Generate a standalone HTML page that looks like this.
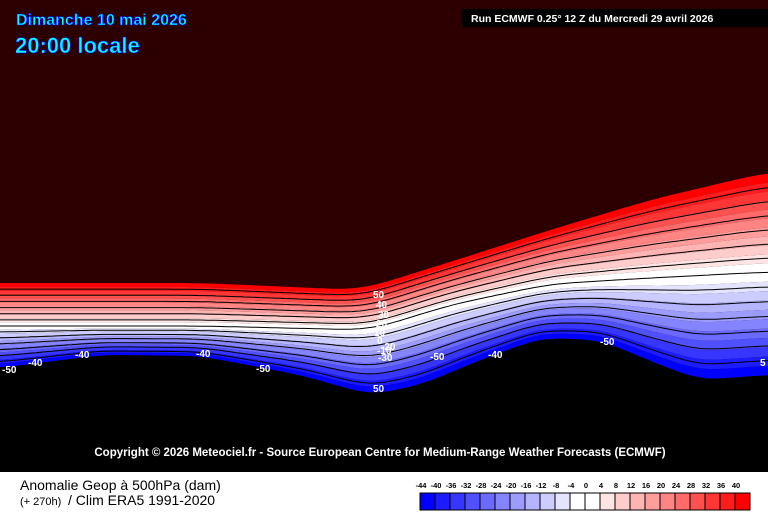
<!DOCTYPE html>
<html><head><meta charset="utf-8"><style>
body{margin:0;width:768px;height:512px;overflow:hidden;background:#fff;font-family:"Liberation Sans",sans-serif}
svg{display:block}
</style></head><body>
<svg id="s" width="768" height="512" xmlns="http://www.w3.org/2000/svg">
<rect x="0" y="0" width="768" height="472" fill="#2c0000"/>
<g id="bands"></g>
<g id="lines" fill="none" stroke="#000" stroke-width="1"></g>
<text x="16" y="25" font-size="16" font-weight="bold" fill="#00ffff" stroke="#0000ff" stroke-width="0.6">Dimanche 10 mai 2026</text>
<text x="15" y="53" font-size="22" font-weight="bold" fill="#00ffff" stroke="#0000ff" stroke-width="0.6">20:00 locale</text>
<rect x="462" y="9" width="306" height="18" fill="#000"/>
<text x="471" y="22" font-size="10.5" font-weight="bold" fill="#fff">Run ECMWF 0.25° 12 Z du Mercredi 29 avril 2026</text>
<g font-size="10" font-weight="bold" fill="#fff">
<text x="373" y="298">50</text><text x="376" y="308">40</text><text x="378" y="318">30</text><text x="376" y="327">20</text><text x="374" y="336">10</text><text x="377" y="344">0</text><text x="377" y="342" dy="12">-10</text><text x="381" y="350">-20</text><text x="378" y="361">-30</text>
<text x="430" y="360">-50</text><text x="488" y="358">-40</text><text x="600" y="345">-50</text><text x="373" y="392">50</text><text x="196" y="357">-40</text><text x="256" y="372">-50</text>
<text x="75" y="358">-40</text><text x="28" y="366">-40</text><text x="2" y="373">-50</text><text x="760" y="366">5</text>
</g>
<text x="380" y="456" font-size="11.5" font-weight="bold" fill="#fff" text-anchor="middle">Copyright © 2026 Meteociel.fr - Source European Centre for Medium-Range Weather Forecasts (ECMWF)</text>
<rect x="0" y="472" width="768" height="40" fill="#fff"/>
<text x="20" y="490" font-size="14" fill="#000">Anomalie Geop à 500hPa (dam)</text>
<text x="20" y="505" font-size="11" fill="#000">(+ 270h)</text>
<text x="68" y="505" font-size="14" fill="#000">/ Clim ERA5 1991-2020</text>
<g id="bar"></g>
</svg>
<script>
function lin(pts,x){if(x<=pts[0][0])return pts[0][1];for(let i=0;i<pts.length-1;i++){const[a,b]=pts[i],[c,d]=pts[i+1];if(x>=a&&x<=c)return b+(d-b)*(x-a)/(c-a);}return pts[pts.length-1][1];}
function smooth(pts,w){return x=>{let s=0,n=0;for(let k=-w;k<=w;k+=2){const g=Math.exp(-(k*k)/(2*(w/2)*(w/2)));s+=g*lin(pts,Math.min(768,Math.max(0,x+k)));n+=g;}return s/n;};}
const U=[[0,283],[200,283],[360,290],[450,262],[550,230],[650,200],[768,172]];
const M=[[0,326],[200,326],[370,330],[450,305],[550,284],[650,278],[768,272]];
const L=[[0,368],[100,355],[200,356],[300,375],[370,395],[420,385],[480,360],[540,338],[600,340],[660,365],[700,380],[768,375]];
const Uf=smooth(U,40),Mf=smooth(M,40),Lf=smooth(L,30);
const reds=["#ff0000","#ff1c1c","#ff3636","#ff5050","#ff6a6a","#ff8484","#ff9c9c","#ffb4b4","#ffcccc","#ffe4e4","#ffffff"];
const blues=["#ffffff","#e4e4ff","#ccccff","#b4b4ff","#9c9cff","#8484ff","#6a6aff","#5050ff","#3636ff","#1c1cff","#0000ff"];
const ns="http://www.w3.org/2000/svg";
function curve(f){let p=[];for(let x=0;x<=768;x+=4)p.push([x,f(x)]);return p;}
function band(f1,f2,col){const a=curve(f1),b=curve(f2).reverse();const e=document.createElementNS(ns,"path");e.setAttribute("d","M"+a.concat(b).map(p=>p[0]+","+p[1].toFixed(1)).join("L")+"Z");e.setAttribute("fill",col);document.getElementById("bands").appendChild(e);}
function mix(A,B,t){return x=>A(x)+(B(x)-A(x))*t;}
for(let i=0;i<11;i++)band(mix(Uf,Mf,i/11),mix(Uf,Mf,(i+1)/11),reds[i]);
for(let i=0;i<11;i++)band(mix(Mf,Lf,i/11),mix(Mf,Lf,(i+1)/11),blues[i]);
band(Lf,x=>472,"#000");
const lg=document.getElementById("lines");
for(let i=1;i<14;i++){const f=i<7?mix(Uf,Mf,i/7):mix(Mf,Lf,(i-7)/7);const p=curve(f);const e=document.createElementNS(ns,"path");e.setAttribute("d","M"+p.map(q=>q[0]+","+q[1].toFixed(1)).join("L"));lg.appendChild(e);}
const bar=document.getElementById("bar");
const cols=blues.slice().reverse().concat(reds.slice().reverse());
const labs=[-44,-40,-36,-32,-28,-24,-20,-16,-12,-8,-4,0,4,8,12,16,20,24,28,32,36,40];
for(let i=0;i<22;i++){const r=document.createElementNS(ns,"rect");r.setAttribute("x",420+i*15);r.setAttribute("y",493);r.setAttribute("width",15);r.setAttribute("height",17);r.setAttribute("fill",cols[i]);r.setAttribute("stroke","#000");bar.appendChild(r);
const t=document.createElementNS(ns,"text");t.setAttribute("x",421+i*15);t.setAttribute("y",488);t.setAttribute("font-size","7.5");t.setAttribute("font-weight","bold");t.setAttribute("text-anchor","middle");t.setAttribute("fill","#000");t.textContent=labs[i];bar.appendChild(t);}
</script>
</body></html>
